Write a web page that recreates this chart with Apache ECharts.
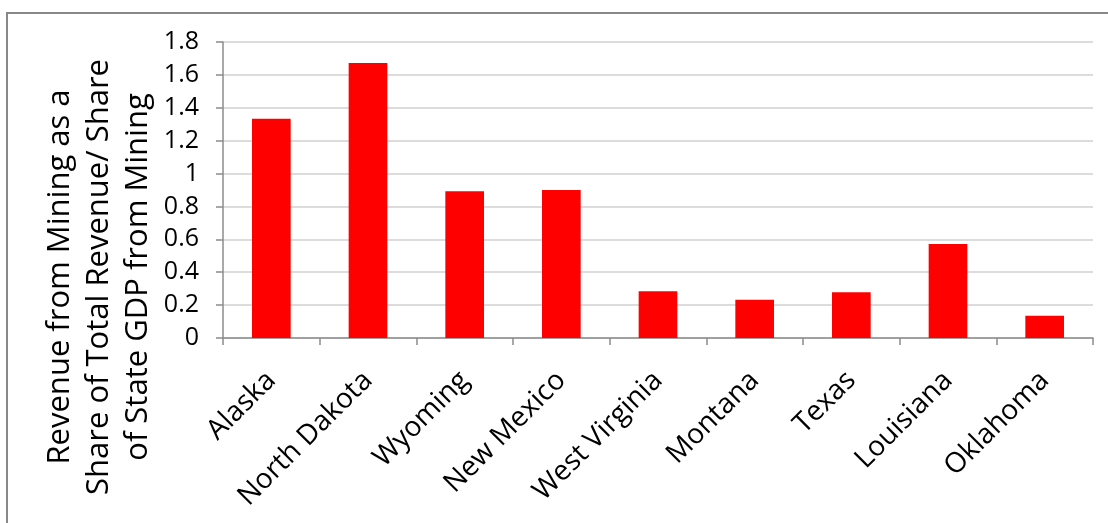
<!DOCTYPE html>
<html>
<head>
<meta charset="utf-8">
<script src="https://cdn.jsdelivr.net/npm/echarts@6/dist/echarts.min.js"></script>
<style>
  html, body { margin: 0; padding: 0; background: #fff; }
  #chart { width: 1108px; height: 523px; }
</style>
</head>
<body>
<div id="chart"></div>
<script>
// States ranked in the original table order
const states = ['Alaska', 'North Dakota', 'Wyoming', 'New Mexico', 'West Virginia',
                'Montana', 'Texas', 'Louisiana', 'Oklahoma'];
// Revenue from mining as share of total revenue / share of state GDP from mining
const miningRatio = [1.333, 1.672, 0.892, 0.900, 0.284, 0.233, 0.278, 0.572, 0.135];
// Value axis range
const yMin = 0;
const yMax = 1.8;
const yStep = 0.2;
const yTitle = ['Revenue from Mining as a', 'Share of Total Revenue/ Share', 'of State GDP from Mining'];

const FONT = '"Open Sans", "DejaVu Sans", sans-serif';
const chart = echarts.init(document.getElementById('chart'), null, { renderer: 'canvas' });

chart.setOption({
  animation: false,
  backgroundColor: '#ffffff',
  textStyle: { fontFamily: FONT },
  grid: { left: 223, right: 15, top: 42, bottom: 185, containLabel: false },
  xAxis: {
    type: 'category',
    data: states,
    boundaryGap: true,
    axisLine: { show: true, lineStyle: { color: '#8c8c8c', width: 1.5 } },
    axisTick: { show: true, alignWithLabel: false, length: 7, lineStyle: { color: '#8c8c8c', width: 1.5 } },
    axisLabel: {
      interval: 0,
      rotate: 45,
      margin: 38,
      fontSize: 28,
      color: '#000',
      fontFamily: FONT
    },
    splitLine: { show: false }
  },
  yAxis: {
    type: 'value',
    min: yMin,
    max: yMax,
    interval: yStep,
    axisLine: { show: true, lineStyle: { color: '#8c8c8c', width: 1.5 } },
    axisTick: { show: true, length: 7, lineStyle: { color: '#8c8c8c', width: 1.5 } },
    axisLabel: {
      fontSize: 25,
      color: '#000',
      margin: 24,
      fontFamily: FONT,
      formatter: v => String(Math.round(v * 10) / 10)
    },
    splitLine: { show: true, lineStyle: { color: '#d0d0d0', width: 1.5 } }
  },
  series: [{
    type: 'bar',
    data: miningRatio,
    barCategoryGap: '60%',
    itemStyle: { color: '#ff0000' }
  }],
  graphic: [
    // chart frame (top and left edges)
    {
      type: 'polyline',
      shape: { points: [[7, 523], [7, 13], [1108, 13]] },
      style: { stroke: '#888888', lineWidth: 2, fill: null },
      silent: true
    },
    {
      type: 'text',
      x: 99,
      y: 277,
      rotation: Math.PI / 2,
      style: {
        text: yTitle.join('\n'),
        font: '31px ' + FONT,
        fill: '#000',
        align: 'center',
        verticalAlign: 'middle',
        lineHeight: 39
      }
    }
  ]
});
</script>
</body>
</html>
